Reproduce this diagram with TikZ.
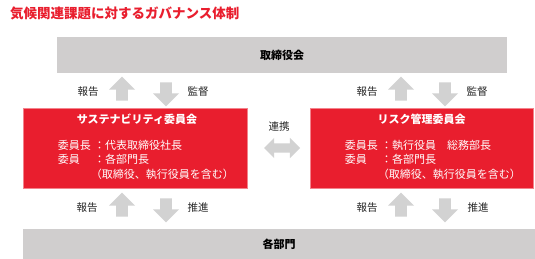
\documentclass[tikz,border=0pt]{standalone}
\usepackage{fontspec}
\setmainfont{Noto Sans CJK JP}
\usepackage{tikz}
\usetikzlibrary{shapes.arrows,positioning}
\definecolor{govred}{RGB}{233,30,46}
\definecolor{bargray}{RGB}{208,206,206}
\definecolor{arrowgray}{RGB}{210,210,210}
\definecolor{labelgray}{RGB}{38,38,38}

\begin{document}
\begin{tikzpicture}[x=1pt,y=-1pt,
    bar/.style={fill=bargray,minimum width=#1,inner sep=0pt,
                font=\fontsize{11}{13}\selectfont\bfseries},
    committee/.style={fill=govred,draw=govred!55!white,line width=0.6pt,
                      minimum width=#1,minimum height=80pt,inner sep=0pt},
    ctitle/.style={text=white,inner sep=0pt,
                   font=\fontsize{11}{13}\selectfont\bfseries},
    cbody/.style={text=white,align=left,anchor=north west,inner sep=0pt,
                  font=\fontsize{11}{14.5}\selectfont},
    flow/.style={text=labelgray,inner sep=0pt,font=\fontsize{10.5}{13}\selectfont},
    blockarr/.style={single arrow,fill=arrowgray,draw=none,
                     minimum height=24pt,minimum width=26pt,inner sep=5.5pt,
                     single arrow head extend=7pt,single arrow head indent=0pt,
                     single arrow tip angle=90},
    uparr/.style={blockarr,rotate=90},
    downarr/.style={blockarr,rotate=-90}]

    \useasboundingbox[fill=white] (0,0) rectangle (535,259);

    % Title
    \node[anchor=west,inner sep=0pt,text=govred,
          font=\fontsize{13.5}{16}\selectfont\bfseries] (title) at (10,13.5)
      {気候関連課題に対するガバナンス体制};

    % Board / departments
    \node[bar=450pt,minimum height=36pt] (board) at (282,55) {取締役会};
    \node[bar=512pt,minimum height=30pt] (depts) at (279,244) {各部門};

    % Committees
    \node[committee=224pt] (sustain) at (135,148) {};
    \node[committee=223pt] (riskcom) at (421.5,148) {};

    \node[ctitle] (sustitle) at ([xshift=2pt,yshift=-12pt]sustain.north)
      {サステナビリティ委員会};
    \node[cbody] (susbody) at ([xshift=35pt,yshift=8pt]sustain.west)
      {\makebox[3.3em][l]{委員長}：代表取締役社長\\
       \makebox[3.3em][l]{委員}：各部門長\\
       \hspace{3em}（取締役、執行役員を含む）};

    \node[ctitle] (risktitle) at ([yshift=-12pt]riskcom.north)
      {リスク管理委員会};
    \node[cbody] (riskbody) at ([xshift=35pt,yshift=8pt]riskcom.west)
      {\makebox[3.3em][l]{委員長}：執行役員　総務部長\\
       \makebox[3.3em][l]{委員}：各部門長\\
       \hspace{3em}（取締役、執行役員を含む）};

    % Board <-> committees
    \node[uparr] (susup) at (122,91.5) {};
    \node[downarr] (susdown) at (166,91.5) {};
    \node[flow] (susreport) at (88,91.5) {報告};
    \node[flow] (sussuper) at (198,91.5) {監督};

    \node[uparr] (riskup) at (401,91.5) {};
    \node[downarr] (riskdown) at (445,91.5) {};
    \node[flow] (riskreport) at (367,91.5) {報告};
    \node[flow] (risksuper) at (477,91.5) {監督};

    % Committees <-> departments
    \node[uparr] (deptsusup) at (122,207.5) {};
    \node[downarr] (deptsusdown) at (166,207.5) {};
    \node[flow] (deptsusreport) at (87,207.5) {報告};
    \node[flow] (deptsuspush) at (198,207.5) {推進};

    \node[uparr] (deptriskup) at (401,207.5) {};
    \node[downarr] (deptriskdown) at (445,207.5) {};
    \node[flow] (deptriskreport) at (367,207.5) {報告};
    \node[flow] (deptriskpush) at (478,207.5) {推進};

    % Cooperation
    \node[double arrow,fill=arrowgray,draw=none,minimum height=36pt,
          minimum width=20pt,inner sep=4.5pt,double arrow head extend=5.5pt,
          double arrow head indent=0pt,double arrow tip angle=90]
      (link) at (282,148) {};
    \node[flow] (linklabel) at (279,127) {連携};
  \end{tikzpicture}
\end{document}
